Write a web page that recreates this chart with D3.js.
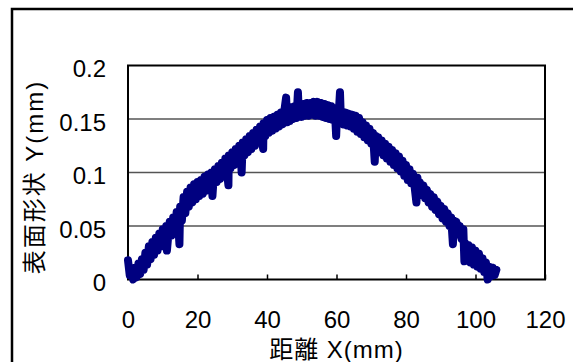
<!DOCTYPE html>
<html>
<head>
<meta charset="utf-8">
<script src="https://cdn.jsdelivr.net/npm/d3@7"></script>
<style>
  body { margin: 0; background: #fff; }
  svg { display: block; }
  text { font-family: "Liberation Sans", Arial, "Noto Sans CJK JP", sans-serif; fill: #000; }
</style>
</head>
<body>
<svg id="chart"></svg>
<script>
const distanceX = [
  0, 0.5, 1.0, 1.5, 2.0, 2.5, 3.0, 3.5, 4.0, 4.5, 5.0, 5.5, 6.0, 6.5, 7.0, 7.5, 8.0, 8.5, 9.0, 9.5,
  10.0, 10.5, 11.0, 11.2, 11.5, 12.0, 12.5, 13.0, 13.5, 14.0, 14.5, 14.8, 15.0, 15.5, 16.0, 16.5, 17.0, 17.5, 18.0, 18.5,
  19.0, 19.5, 20.0, 20.5, 21.0, 21.5, 22.0, 22.5, 23.0, 23.5, 24.0, 24.3, 24.5, 25.0, 25.5, 26.0, 26.5, 27.0, 27.5, 28.0,
  28.5, 28.9, 29.0, 29.5, 30.0, 30.5, 31.0, 31.5, 32.0, 32.5, 32.7, 33.0, 33.5, 34.0, 34.5, 35.0, 35.5, 36.0, 36.5, 37.0,
  37.5, 38.0, 38.5, 38.9, 39.0, 39.5, 40.0, 40.5, 41.0, 41.5, 42.0, 42.5, 43.0, 43.5, 44.0, 44.5, 45.0, 45.5, 45.8, 46.0,
  46.5, 47.0, 47.5, 48.0, 48.5, 48.9, 49.2, 49.5, 50.0, 50.5, 51.0, 51.5, 52.0, 52.5, 53.0, 53.5, 54.0, 54.5, 55.0, 55.5,
  56.0, 56.5, 57.0, 57.5, 58.0, 58.5, 59.0, 59.5, 59.9, 60.2, 60.5, 61.0, 61.3, 61.5, 62.0, 62.5, 63.0, 63.5, 64.0, 64.5,
  65.0, 65.5, 66.0, 66.5, 67.0, 67.5, 68.0, 68.5, 69.0, 69.5, 70.0, 70.5, 71.0, 71.3, 71.5, 72.0, 72.5, 73.0, 73.5, 74.0,
  74.5, 75.0, 75.5, 76.0, 76.5, 77.0, 77.5, 78.0, 78.5, 79.0, 79.5, 80.0, 80.5, 81.0, 81.5, 82.0, 82.5, 83.0, 83.3, 83.5,
  84.0, 84.5, 85.0, 85.5, 86.0, 86.5, 87.0, 87.5, 88.0, 88.5, 89.0, 89.5, 90.0, 90.5, 91.0, 91.5, 92.0, 92.5, 93.0, 93.5,
  93.8, 94.0, 94.5, 95.0, 95.5, 96.0, 96.5, 96.8, 97.0, 97.5, 98.0, 98.5, 99.0, 99.5, 100.0, 100.5, 101.0, 101.5, 102.0, 102.5,
  103.0, 103.5, 104.0, 104.5, 105.0, 105.5, 106.0
];

// 表面形状 Y (mm)
const surfaceY = [
  0.018, 0.004, 0.010, 0.000, 0.011, 0.002, 0.015, 0.005, 0.019, 0.009, 0.025, 0.014, 0.031, 0.019, 0.035, 0.023, 0.039, 0.027, 0.043, 0.031,
  0.047, 0.034, 0.050, 0.027, 0.038, 0.054, 0.041, 0.058, 0.045, 0.063, 0.049, 0.033, 0.068, 0.055, 0.077, 0.062, 0.082, 0.068, 0.086, 0.072,
  0.089, 0.075, 0.091, 0.078, 0.093, 0.080, 0.096, 0.083, 0.098, 0.085, 0.100, 0.078, 0.088, 0.103, 0.091, 0.106, 0.094, 0.109, 0.097, 0.113,
  0.100, 0.088, 0.116, 0.104, 0.119, 0.107, 0.122, 0.110, 0.125, 0.113, 0.100, 0.128, 0.116, 0.131, 0.119, 0.134, 0.122, 0.137, 0.125, 0.140,
  0.128, 0.143, 0.131, 0.122, 0.146, 0.134, 0.149, 0.137, 0.151, 0.139, 0.152, 0.141, 0.154, 0.143, 0.156, 0.145, 0.158, 0.170, 0.147, 0.160,
  0.148, 0.161, 0.150, 0.162, 0.151, 0.175, 0.152, 0.163, 0.152, 0.164, 0.153, 0.165, 0.153, 0.165, 0.154, 0.166, 0.153, 0.166, 0.153, 0.165,
  0.152, 0.164, 0.151, 0.163, 0.150, 0.162, 0.149, 0.160, 0.134, 0.159, 0.147, 0.175, 0.146, 0.157, 0.145, 0.156, 0.144, 0.155, 0.143, 0.154,
  0.141, 0.153, 0.138, 0.151, 0.136, 0.147, 0.133, 0.144, 0.130, 0.141, 0.127, 0.137, 0.110, 0.134, 0.122, 0.133, 0.119, 0.130, 0.116, 0.127,
  0.113, 0.124, 0.110, 0.121, 0.107, 0.118, 0.104, 0.115, 0.101, 0.111, 0.097, 0.107, 0.093, 0.103, 0.090, 0.099, 0.086, 0.072, 0.095, 0.083,
  0.091, 0.079, 0.088, 0.076, 0.084, 0.072, 0.080, 0.068, 0.077, 0.065, 0.073, 0.061, 0.069, 0.057, 0.066, 0.054, 0.062, 0.050, 0.058, 0.033,
  0.055, 0.046, 0.054, 0.042, 0.050, 0.038, 0.047, 0.017, 0.034, 0.018, 0.032, 0.016, 0.030, 0.014, 0.027, 0.012, 0.024, 0.010, 0.020, 0.007,
  0.016, 0.000, 0.012, 0.003, 0.011, 0.004, 0.009
];

const xTicks = [0, 20, 40, 60, 80, 100, 120];
const yTicks = [0, 0.05, 0.1, 0.15, 0.2];
const xTitle = '距離 X(mm)';
const yTitle = '表面形状 Y(mm)';

const width = 573;
const height = 362;
const plot = { left: 128, right: 545, top: 65.5, bottom: 279.5 };

const svg = d3.select('#chart')
  .attr('width', width)
  .attr('height', height)
  .attr('viewBox', `0 0 ${width} ${height}`);

svg.append('rect').attr('width', width).attr('height', height).attr('fill', '#fff');

// outer chart-area border (runs off the right and bottom edges)
svg.append('rect')
  .attr('x', 12).attr('y', 9)
  .attr('width', 620).attr('height', 420)
  .attr('fill', 'none')
  .attr('stroke', '#000')
  .attr('stroke-width', 2.5);

const x = d3.scaleLinear().domain([0, 120]).range([plot.left, plot.right]);
const y = d3.scaleLinear().domain([0, 0.2]).range([plot.bottom, plot.top]);

// gridlines
svg.append('g')
  .selectAll('line')
  .data(yTicks.filter(d => d > 0 && d < 0.2))
  .join('line')
  .attr('x1', plot.left).attr('x2', plot.right)
  .attr('y1', d => y(d)).attr('y2', d => y(d))
  .attr('stroke', '#555')
  .attr('stroke-width', 1.5);

// x axis: ticks point inward, labels below
const xAxis = svg.append('g')
  .attr('transform', `translate(0,${plot.bottom})`)
  .call(d3.axisBottom(x).tickValues(xTicks).tickSize(-5).tickPadding(31).tickFormat(d3.format('d')));
xAxis.select('.domain').remove();
xAxis.selectAll('line').attr('stroke', '#000').attr('stroke-width', 1.5);
xAxis.selectAll('text')
  .attr('font-size', 24)
  .attr('font-family', '"Liberation Sans", Arial, sans-serif');

// y axis labels
const yAxis = svg.append('g')
  .attr('transform', `translate(${plot.left},0)`)
  .call(d3.axisLeft(y).tickValues(yTicks).tickSize(0).tickPadding(22).tickFormat(d => String(+d.toFixed(2))));
yAxis.select('.domain').remove();
yAxis.selectAll('text')
  .attr('dy', 11)
  .attr('font-size', 24)
  .attr('font-family', '"Liberation Sans", Arial, sans-serif');

// plot frame
svg.append('rect')
  .attr('x', plot.left).attr('y', plot.top)
  .attr('width', plot.right - plot.left)
  .attr('height', plot.bottom - plot.top)
  .attr('fill', 'none')
  .attr('stroke', '#000')
  .attr('stroke-width', 2);

// data line
const points = distanceX.map((d, i) => [d, surfaceY[i]]);
const line = d3.line().x(d => x(d[0])).y(d => y(d[1]));

svg.append('path')
  .datum(points)
  .attr('d', line)
  .attr('fill', 'none')
  .attr('stroke', '#000080')
  .attr('stroke-width', 8)
  .attr('stroke-linejoin', 'round')
  .attr('stroke-linecap', 'round');

// axis titles
svg.append('text')
  .attr('x', (plot.left + plot.right) / 2)
  .attr('y', 358)
  .attr('text-anchor', 'middle')
  .attr('font-size', 24)
  .attr('letter-spacing', 1)
  .text(xTitle);

svg.append('text')
  .attr('transform', 'translate(43,177) rotate(-90)')
  .attr('text-anchor', 'middle')
  .attr('font-size', 24)
  .attr('letter-spacing', 2)
  .text(yTitle);
</script>
</body>
</html>
